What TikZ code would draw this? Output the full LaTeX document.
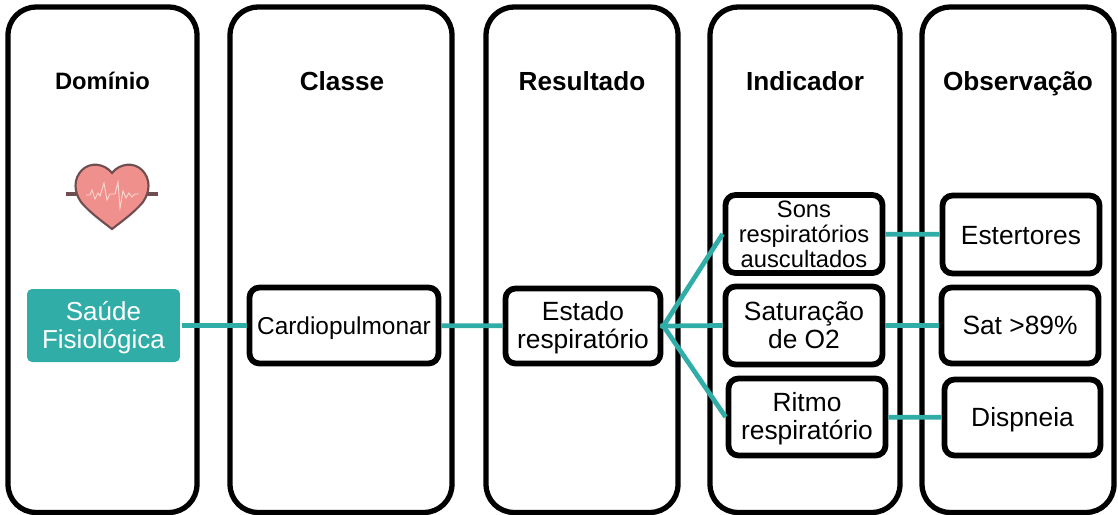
\documentclass[tikz,border=0pt]{standalone}
\usepackage{fontspec}
\setmainfont{Liberation Sans}
\definecolor{tealconn}{HTML}{31ADA8}
\definecolor{heartfill}{HTML}{F0908C}
\definecolor{heartline}{HTML}{6E4E50}
\definecolor{heartpulse}{HTML}{FAD9D4}
\tikzset{
    coluna/.style={draw=black, line width=3pt, rounded corners=0.56cm, minimum height=10.11cm, inner sep=0pt},
    caixa/.style={draw=black, line width=3.3pt, rounded corners=0.2cm, inner sep=0pt, align=center,
        minimum width=3.14cm, minimum height=1.54cm, font=\fontsize{15}{15.9}\selectfont},
    titulo/.style={anchor=base, font=\fontsize{14.9}{16}\selectfont\bfseries},
    ligacao/.style={draw=tealconn, line width=2.7pt},
    desce/.style={execute at begin node={\rule{0pt}{#1}}},
}
\begin{document}
\begin{tikzpicture}[x=0.02cm, y=-0.02cm]
    \useasboundingbox (0,0) rectangle (1118,514);

    % colunas
    \node[coluna, minimum width=3.78cm] (dominio) at (102.5,259.75) {};
    \node[coluna, minimum width=4.44cm] (classe) at (341,259.75) {};
    \node[coluna, minimum width=3.84cm] (resultado) at (582,259.75) {};
    \node[coluna, minimum width=3.80cm] (indicador) at (805,259.75) {};
    \node[coluna, minimum width=3.84cm] (observacao) at (1018,259.75) {};

    \node[titulo, font=\fontsize{13.5}{15}\selectfont\bfseries] (tdominio) at (102.5,89) {Domínio};
    \node[titulo] (tclasse) at (342,90) {Classe};
    \node[titulo] (tresultado) at (582,90) {Resultado};
    \node[titulo] (tindicador) at (805,90) {Indicador};
    \node[titulo] (tobservacao) at (1018,90) {Observação};

    % coracao
    \draw[heartline, line width=2pt] (66,194) -- (158,194);
    \filldraw[fill=heartfill, draw=heartline, line width=1.2pt]
        (112,173) .. controls (104,163) and (90,162) .. (82,170)
        .. controls (73,179) and (74,192) .. (81,202)
        .. controls (89,212) and (103,222) .. (112,229)
        .. controls (121,222) and (135,212) .. (143,202)
        .. controls (150,192) and (151,179) .. (142,170)
        .. controls (134,162) and (120,163) .. (112,173) -- cycle;
    \draw[heartpulse, line width=0.5pt] (86,195) -- (90,195) -- (92,190) -- (95,199) -- (98,193) -- (100,196)
        -- (104,183) -- (107,200) -- (110,194) -- (115,194) -- (118,182) -- (120,208) -- (123,191)
        -- (126,198) -- (129,193) -- (132,197) -- (135,194) -- (139,194);

    % caixas
    \node[fill=tealconn, text=white, rounded corners=0.1cm, align=center, inner sep=0pt, text depth=0.3pt,
        minimum width=3.06cm, minimum height=1.46cm, font=\fontsize{14.8}{16}\selectfont] (saude) at (103.5,325.5) {Saúde\\Fisiológica};
    \node[caixa, desce=13.2pt, minimum width=3.78cm, minimum height=1.52cm, font=\fontsize{13.9}{15.9}\selectfont] (cardio) at (344,325.5) {Cardiopulmonar};
    \node[caixa, text depth=1.4pt, minimum width=3.1cm, minimum height=1.5cm] (estado) at (583,326) {Estado\\respiratório};
    \node[caixa, minimum height=1.56cm, font=\fontsize{13.5}{14.2}\selectfont] (sons) at (804,234) {Sons\\respiratórios\\auscultados};
    \node[caixa, desce=11.6pt, minimum height=1.56cm] (saturacao) at (804,325.5) {Saturação\\de O2};
    \node[caixa, text depth=0.85pt] (ritmo) at (807,417) {Ritmo\\respiratório};
    \node[caixa, desce=11.8pt, minimum height=1.56cm] (estertores) at (1021,234.5) {Estertores};
    \node[caixa, minimum height=1.52cm] (sat) at (1020,325.5) {Sat >89\%};
    \node[caixa, desce=13pt, minimum width=3.12cm, minimum height=1.52cm] (dispneia) at (1022.5,417.5) {Dispneia};

    % ligacoes
    \draw[ligacao, shorten <=0.04cm] (saude.east) -- (saude.east -| cardio.west);
    \draw[ligacao] (cardio) -- (estado);
    \draw[ligacao, shorten <=-0.06cm] (estado.east) -- (sons.west);
    \draw[ligacao, shorten <=-0.06cm] (estado.east) -- (saturacao.west);
    \draw[ligacao, shorten <=-0.06cm] (estado.east) -- (ritmo.west);
    \draw[ligacao] (sons) -- (estertores);
    \draw[ligacao] (saturacao) -- (sat);
    \draw[ligacao] (ritmo) -- (dispneia);
\end{tikzpicture}
\end{document}
